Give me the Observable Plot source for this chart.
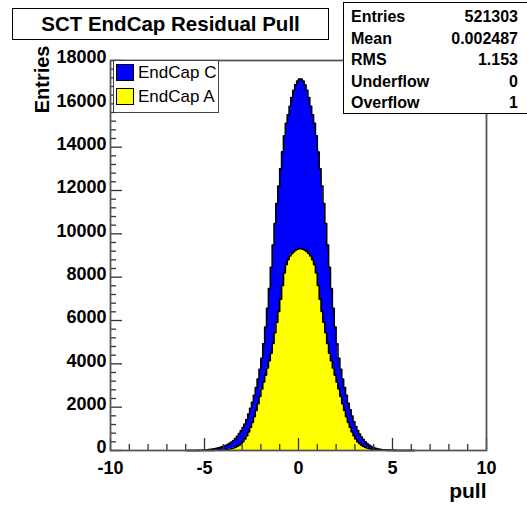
<!DOCTYPE html>
<html><head><meta charset="utf-8">
<script src="https://cdn.jsdelivr.net/npm/d3@7"></script>
<script src="https://cdn.jsdelivr.net/npm/@observablehq/plot@0.6"></script>
<style>
body{margin:0;background:#fff;font-family:"Liberation Sans",Arial,sans-serif;}
#wrap{position:relative;width:527px;height:506px;overflow:hidden;background:#fff;}
#wrap svg{position:absolute;left:0;top:0;}
.box{position:absolute;background:#fff;border:1px solid #000;box-sizing:border-box;}
#title{left:12px;top:8px;width:317px;height:32px;font-weight:bold;font-size:20.5px;text-align:center;line-height:30px;}
#stats{left:343px;top:2px;width:190px;height:112px;font-weight:bold;font-size:16px;padding:3px 0 0 7px;}
#stats .row{position:relative;height:21.6px;line-height:21.6px;}
#stats .v{position:absolute;right:14px;top:0;}
#legend{left:113px;top:60px;width:106px;height:53px;border-color:#444;font-size:17px;}
#legend .item{position:absolute;left:2px;height:18px;line-height:18px;}
#legend .sw{position:absolute;left:0;top:0;width:18px;height:17px;border:1px solid #000;box-sizing:border-box;}
#legend .lt{position:absolute;left:22px;top:0;white-space:nowrap;}
</style></head><body><div id="wrap"></div>
<script>
// ---- data ----
const binStart = -6.0;      // left edge of first bin
const binWidth = 0.1;
// EndCap A entries per bin, bins from -6.0 to 6.2
const endcapA = [0,0,0,0,0,1,1,1,2,2,3,4,5,6,8,10,13,16,21,27,34,44,56,72,92,118,150,195,250,320,410,530,680,860,1070,1300,1560,1850,2160,2500,2840,3160,3480,3810,4140,4490,4940,5440,5920,6420,6980,7620,8200,8580,8810,8980,9090,9180,9250,9290,9310,
9310,9290,9250,9180,9090,8980,8810,8580,8200,7620,6980,6420,5920,5440,4940,4490,4140,3810,3480,3160,2840,2500,2160,1850,1560,1300,1070,860,680,530,410,320,250,195,150,118,92,72,56,44,34,27,21,16,13,10,8,6,5,4,3,2,2,1,1,1,0,0,0,0,0];
// EndCap C entries per bin, same bins
const endcapC = [0,0,1,1,2,2,4,7,9,14,19,26,34,44,56,70,90,106,124,143,166,191,224,258,298,342,400,465,530,590,650,690,740,820,880,930,990,1050,1140,1250,1410,1760,2220,2750,3340,3960,4540,5040,5480,5780,6020,6160,6330,6520,6680,6910,7200,7440,7630,7760,7830,
7830,7760,7630,7440,7200,6910,6680,6520,6330,6160,6020,5780,5480,5040,4540,3960,3340,2750,2220,1760,1410,1250,1140,1050,990,880,810,730,650,580,510,440,370,305,250,200,158,123,94,71,54,40,30,22,16,12,8,6,4,3,2,1,1,1,0,0,0,0,0,0,0];
const seriesNames = ["EndCap C", "EndCap A"];
const seriesColors = ["#0000ff", "#ffff00"];
const xMajorTicks = [-10, -5, 0, 5, 10];
const xMinorTicks = [-9,-8,-7,-6,-4,-3,-2,-1,1,2,3,4,6,7,8,9];
const yMajorTicks = [0, 2000, 4000, 6000, 8000, 10000, 12000, 14000, 16000, 18000];
const yMinorTicks = [400,800,1200,1600,2400,2800,3200,3600,4400,4800,5200,5600,6400,6800,7200,7600,8400,8800,9200,9600,10400,10800,11200,11600,12400,12800,13200,13600,14400,14800,15200,15600,16400,16800,17200,17600];
const titleText = "SCT EndCap Residual Pull";
const statLabels = ["Entries", "Mean", "RMS", "Underflow", "Overflow"];
const statValues = ["521303", "0.002487", "1.153", "0", "1"];
const xLabel = "pull";
const yLabel = "Entries";

// ---- build table ----
const bins = endcapA.map((a, i) => {
  const x1 = binStart + i * binWidth, x2 = x1 + binWidth;
  return {x1, x2, xc: (x1 + x2) / 2, a, c: endcapC[i], total: a + endcapC[i]};
});

const W = 527, H = 506;
const mL = 110, mR = 41, mT = 60, mB = 56;
const fw = W - mL - mR, fh = H - mT - mB;
const tickColor = "#333";

const chart = Plot.plot({
  width: W, height: H,
  marginLeft: mL, marginRight: mR, marginTop: mT, marginBottom: mB,
  style: {fontFamily: "'Liberation Sans', Arial, sans-serif", fontWeight: "bold", fontSize: "18px", background: "#fff", overflow: "visible"},
  x: {domain: [-10, 10], axis: null},
  y: {domain: [0, 18000], axis: null},
  marks: [
    Plot.rectY(bins, {x1: "x1", x2: "x2", y1: 0, y2: "total", fill: seriesColors[0], inset: 0, shapeRendering: "crispEdges"}),
    Plot.rectY(bins, {x1: "x1", x2: "x2", y1: 0, y2: "a", fill: seriesColors[1], inset: 0, shapeRendering: "crispEdges"}),
    Plot.lineY(bins, {x: "xc", y: "total", curve: "step", stroke: "#000", strokeWidth: 1.6}),
    Plot.lineY(bins, {x: "xc", y: "a", curve: "step", stroke: "#000", strokeWidth: 1.6}),
    Plot.tickX(xMajorTicks, {x: d => d, insetTop: fh - 12, stroke: tickColor, strokeWidth: 1.3}),
    Plot.tickX(xMinorTicks, {x: d => d, insetTop: fh - 6, stroke: tickColor, strokeWidth: 1.3}),
    Plot.tickY(yMajorTicks, {y: d => d, insetRight: fw - 12, stroke: tickColor, strokeWidth: 1.3}),
    Plot.tickY(yMinorTicks, {y: d => d, insetRight: fw - 6, stroke: tickColor, strokeWidth: 1.3}),
    Plot.frame({stroke: "#555", strokeWidth: 1.8}),
    Plot.axisX(xMajorTicks, {tickSize: 0, tickPadding: 11, label: null, fontSize: 18, fontWeight: "bold", fill: "#000", tickFormat: d => String(d)}),
    Plot.axisY(yMajorTicks, {tickSize: 0, tickPadding: 4, dy: -3, label: null, fontSize: 18, fontWeight: "bold", fill: "#000", tickFormat: d => String(d)}),
    Plot.text([xLabel], {frameAnchor: "bottom-right", text: d => d, textAnchor: "end", dy: 47, fontSize: 21, fontWeight: "bold", fill: "#000"}),
    Plot.text([yLabel], {frameAnchor: "top-left", text: d => d, rotate: -90, textAnchor: "end", dx: -76, dy: -15, fontSize: 20, fontWeight: "bold", fill: "#000"})
  ]
});

const wrap = document.getElementById("wrap");
wrap.appendChild(chart);

// title box
const t = document.createElement("div");
t.className = "box"; t.id = "title"; t.textContent = titleText;
wrap.appendChild(t);

// stats box
const s = document.createElement("div");
s.className = "box"; s.id = "stats";
statLabels.forEach((lab, i) => {
  const r = document.createElement("div"); r.className = "row";
  const l = document.createElement("span"); l.textContent = lab;
  const v = document.createElement("span"); v.className = "v"; v.textContent = statValues[i];
  r.appendChild(l); r.appendChild(v); s.appendChild(r);
});
wrap.appendChild(s);

// legend box
const lg = document.createElement("div");
lg.className = "box"; lg.id = "legend";
seriesNames.forEach((name, i) => {
  const it = document.createElement("div"); it.className = "item";
  it.style.top = (3 + i * 24) + "px";
  const sw = document.createElement("div"); sw.className = "sw"; sw.style.background = seriesColors[i];
  const lt = document.createElement("div"); lt.className = "lt"; lt.textContent = name;
  it.appendChild(sw); it.appendChild(lt); lg.appendChild(it);
});
wrap.appendChild(lg);
</script></body></html>
